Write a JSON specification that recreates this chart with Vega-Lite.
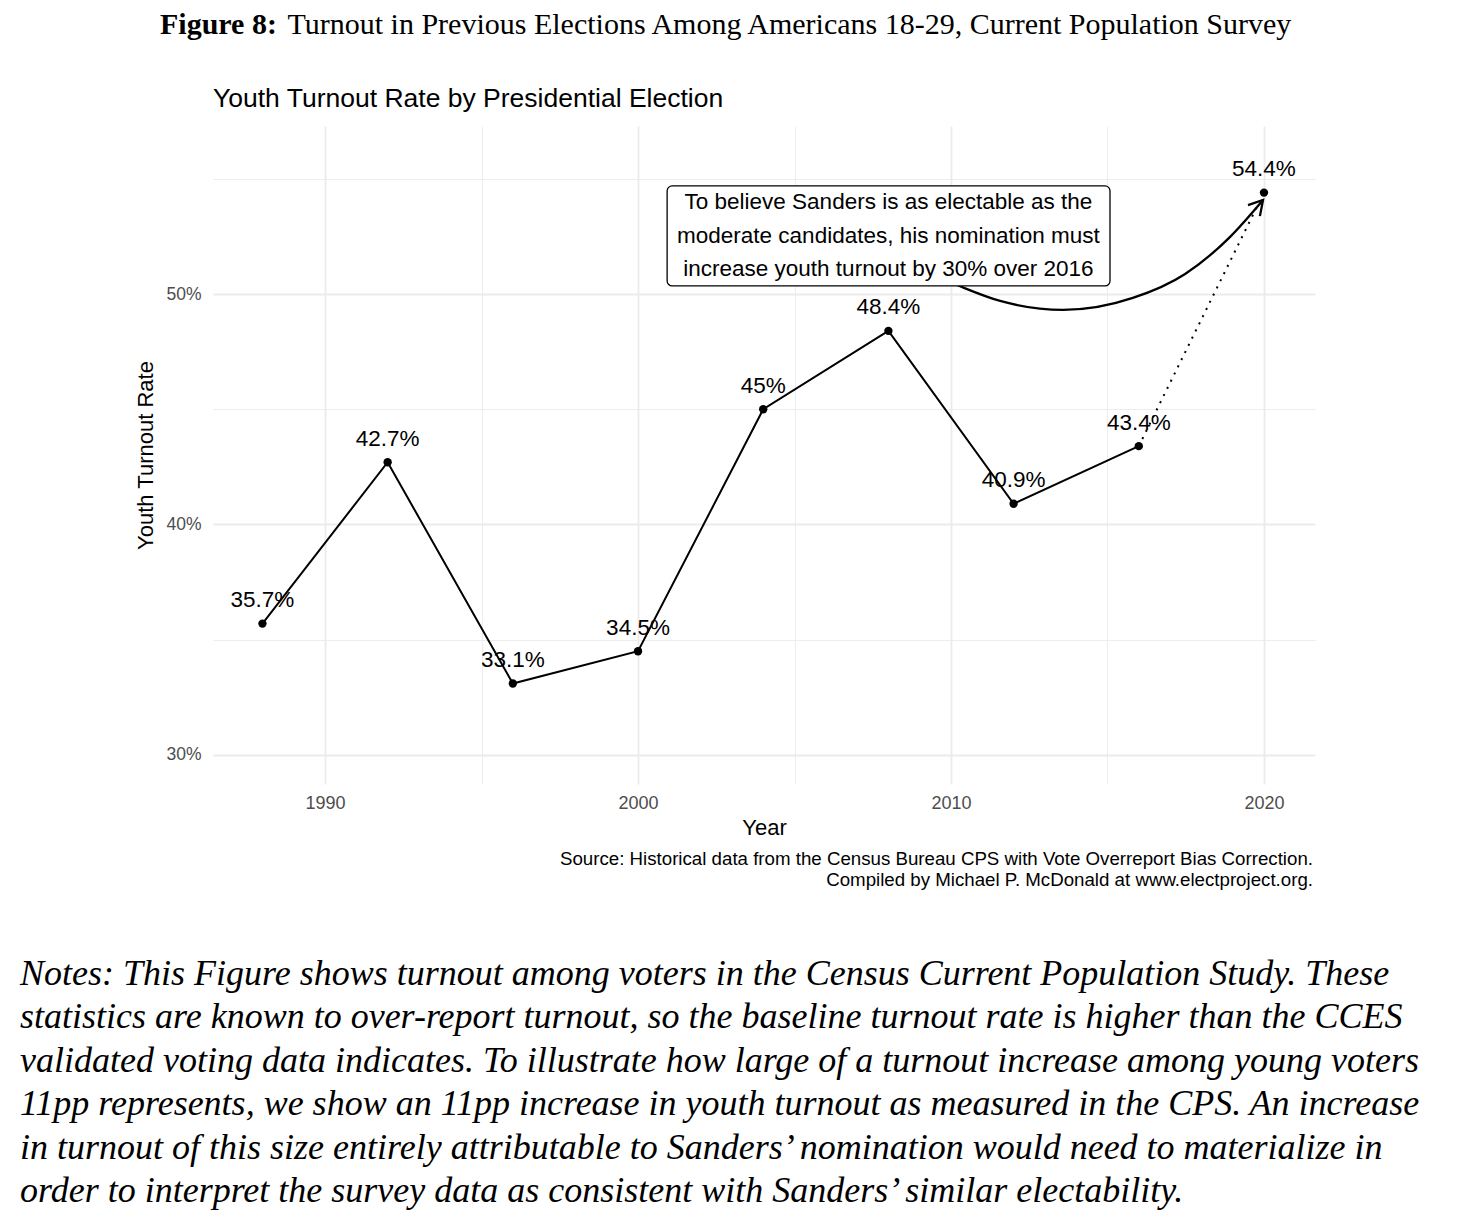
{
  "$schema": "https://vega.github.io/schema/vega-lite/v6.json",
  "padding": {"left": 20, "top": 9, "right": 5, "bottom": 5},
  "background": "white",
  "config": {"view": {"stroke": null}, "concat": {"spacing": 0}},
  "datasets": {
    "turnout": [
      {"year": 1988, "rate": 0.357},
      {"year": 1992, "rate": 0.427},
      {"year": 1996, "rate": 0.331},
      {"year": 2000, "rate": 0.345},
      {"year": 2004, "rate": 0.45},
      {"year": 2008, "rate": 0.484},
      {"year": 2012, "rate": 0.409},
      {"year": 2016, "rate": 0.434},
      {"year": 2020, "rate": 0.544}
    ],
    "curve": [
      {"year": 2009.65, "rate": 0.5069},
      {"year": 2010.19, "rate": 0.5039},
      {"year": 2011.57, "rate": 0.4970},
      {"year": 2013.58, "rate": 0.4931},
      {"year": 2015.81, "rate": 0.4983},
      {"year": 2017.48, "rate": 0.5087},
      {"year": 2018.91, "rate": 0.5247},
      {"year": 2019.97, "rate": 0.5408}
    ],
    "head": [
      {"seq": 1, "year": 2019.49, "rate": 0.5386},
      {"seq": 2, "year": 2019.97, "rate": 0.5408},
      {"seq": 3, "year": 2019.87, "rate": 0.5338}
    ]
  },
  "title": {
    "text": [
      "Notes: This Figure shows turnout among voters in the Census Current Population Study.  These",
      "statistics are known to over-report turnout, so the baseline turnout rate is higher than the CCES",
      "validated voting data indicates. To illustrate how large of a turnout increase among young voters",
      "11pp represents, we show an 11pp increase in youth turnout as measured in the CPS. An increase",
      "in turnout of this size entirely attributable to Sanders’ nomination would need to materialize in",
      "order to interpret the survey data as consistent with Sanders’ similar electability."
    ],
    "orient": "bottom",
    "anchor": "start",
    "frame": "group",
    "font": "Liberation Serif",
    "fontStyle": "italic",
    "fontSize": 36,
    "fontWeight": "normal",
    "color": "black",
    "lineHeight": 43.5,
    "offset": 67,
    "dx": -193
  },
  "vconcat": [
    {
      "title": {
        "text": "\u200b\u00a0\u00a0\u00a0\u00a0\u00a0\u00a0\u00a0\u00a0\u00a0\u00a0\u00a0\u00a0\u00a0\u00a0\u00a0\u00a0\u00a0Turnout in Previous Elections Among Americans 18-29, Current Population Survey",
        "subtitle": "Figure 8:",
        "orient": "top",
        "anchor": "start",
        "frame": "group",
        "font": "Liberation Serif",
        "fontSize": 30,
        "fontWeight": "normal",
        "color": "black",
        "subtitleFont": "Liberation Serif",
        "subtitleFontSize": 30,
        "subtitleFontWeight": "bold",
        "subtitleColor": "black",
        "subtitlePadding": -30,
        "dx": -53,
        "offset": 46
      },
      "vconcat": [
        {
          "title": {
            "text": [
              "Source: Historical data from the Census Bureau CPS with Vote Overreport Bias Correction.",
              "Compiled by Michael P. McDonald at www.electproject.org."
            ],
            "orient": "bottom",
            "anchor": "start",
            "align": "right",
            "frame": "group",
            "font": "Liberation Sans",
            "fontSize": 18.7,
            "fontWeight": "normal",
            "color": "black",
            "lineHeight": 21,
            "offset": 12,
            "dx": 1100
          },
          "vconcat": [
            {
              "title": {
                "text": "Youth Turnout Rate by Presidential Election",
                "anchor": "start",
                "frame": "group",
                "font": "Liberation Sans",
                "fontSize": 26.5,
                "fontWeight": "normal",
                "color": "black",
                "offset": 14
              },
              "width": 1102,
              "height": 658,
              "layer": [
                {
                  "data": {"name": "turnout"},
                  "transform": [{"filter": "datum.year <= 2016"}],
                  "mark": {"type": "line", "color": "black", "strokeWidth": 2},
                  "encoding": {
                    "x": {
                      "field": "year", "type": "quantitative",
                      "scale": {"domain": [1986.42, 2021.63], "nice": false, "zero": false},
                      "axis": {
                        "values": [1990, 1995, 2000, 2005, 2010, 2015, 2020],
                        "format": "d",
                        "labelExpr": "datum.value % 10 === 0 ? datum.label : ''",
                        "title": "Year",
                        "grid": true,
                        "gridColor": "#EBEBEB",
                        "gridWidth": {"condition": {"test": "datum.value % 10 === 0", "value": 1.8}, "value": 0.9},
                        "ticks": false,
                        "domain": false,
                        "labelFont": "Liberation Sans",
                        "labelFontSize": 18,
                        "labelColor": "#4D4D4D",
                        "labelPadding": 10,
                        "labelFlush": false,
                        "labelOverlap": false,
                        "titleFont": "Liberation Sans",
                        "titleFontSize": 22,
                        "titleFontWeight": "normal",
                        "titleColor": "black",
                        "titlePadding": 5
                      }
                    },
                    "y": {
                      "field": "rate", "type": "quantitative",
                      "scale": {"domain": [0.2874, 0.5729], "nice": false, "zero": false},
                      "axis": {
                        "values": [0.30, 0.35, 0.40, 0.45, 0.50, 0.55],
                        "format": ".0%",
                        "labelExpr": "round(datum.value * 100) % 10 === 0 ? datum.label : ''",
                        "title": "Youth Turnout Rate",
                        "grid": true,
                        "gridColor": "#EBEBEB",
                        "gridWidth": {"condition": {"test": "round(datum.value * 100) % 10 === 0", "value": 1.8}, "value": 0.9},
                        "ticks": false,
                        "domain": false,
                        "labelFont": "Liberation Sans",
                        "labelFontSize": 17.5,
                        "labelColor": "#4D4D4D",
                        "labelPadding": 12,
                        "labelFlush": false,
                        "labelOverlap": false,
                        "titleFont": "Liberation Sans",
                        "titleFontSize": 22,
                        "titleFontWeight": "normal",
                        "titleColor": "black",
                        "titlePadding": 8
                      }
                    }
                  }
                },
                {
                  "data": {"name": "turnout"},
                  "transform": [{"filter": "datum.year >= 2016"}],
                  "mark": {"type": "line", "color": "black", "strokeWidth": 2, "strokeDash": [2, 6]},
                  "encoding": {
                    "x": {"field": "year", "type": "quantitative"},
                    "y": {"field": "rate", "type": "quantitative"}
                  }
                },
                {
                  "data": {"name": "curve"},
                  "mark": {"type": "line", "color": "black", "strokeWidth": 2.3, "interpolate": "monotone"},
                  "encoding": {
                    "x": {"field": "year", "type": "quantitative"},
                    "y": {"field": "rate", "type": "quantitative"}
                  }
                },
                {
                  "data": {"name": "head"},
                  "mark": {"type": "line", "color": "black", "strokeWidth": 2.3},
                  "encoding": {
                    "x": {"field": "year", "type": "quantitative"},
                    "y": {"field": "rate", "type": "quantitative"},
                    "order": {"field": "seq", "type": "quantitative"}
                  }
                },
                {
                  "data": {"values": [{}]},
                  "mark": {"type": "rect", "fill": "white", "stroke": "black", "strokeWidth": 1.3, "cornerRadius": 5},
                  "encoding": {
                    "x": {"datum": 2000.93, "type": "quantitative"},
                    "x2": {"datum": 2015.08},
                    "y": {"datum": 0.5469, "type": "quantitative"},
                    "y2": {"datum": 0.5035}
                  }
                },
                {
                  "data": {"values": [{}]},
                  "mark": {"type": "text", "font": "Liberation Sans", "fontSize": 22.5, "color": "black", "align": "center", "baseline": "middle", "lineHeight": 33.5},
                  "encoding": {
                    "x": {"datum": 2008.0, "type": "quantitative"},
                    "y": {"datum": 0.5399, "type": "quantitative"},
                    "text": {"value": ["To believe Sanders is as electable as the", "moderate candidates, his nomination must", "increase youth turnout by 30% over 2016"]}
                  }
                },
                {
                  "data": {"name": "turnout"},
                  "mark": {"type": "point", "filled": true, "color": "black", "opacity": 1, "size": 70},
                  "encoding": {
                    "x": {"field": "year", "type": "quantitative"},
                    "y": {"field": "rate", "type": "quantitative"}
                  }
                },
                {
                  "data": {"name": "turnout"},
                  "mark": {"type": "text", "font": "Liberation Sans", "fontSize": 22.5, "color": "black", "align": "center", "baseline": "alphabetic", "dy": -16.5},
                  "encoding": {
                    "x": {"field": "year", "type": "quantitative"},
                    "y": {"field": "rate", "type": "quantitative"},
                    "text": {"field": "rate", "type": "quantitative", "format": ".1~%"}
                  }
                }
              ]
            }
          ]
        }
      ]
    }
  ]
}
